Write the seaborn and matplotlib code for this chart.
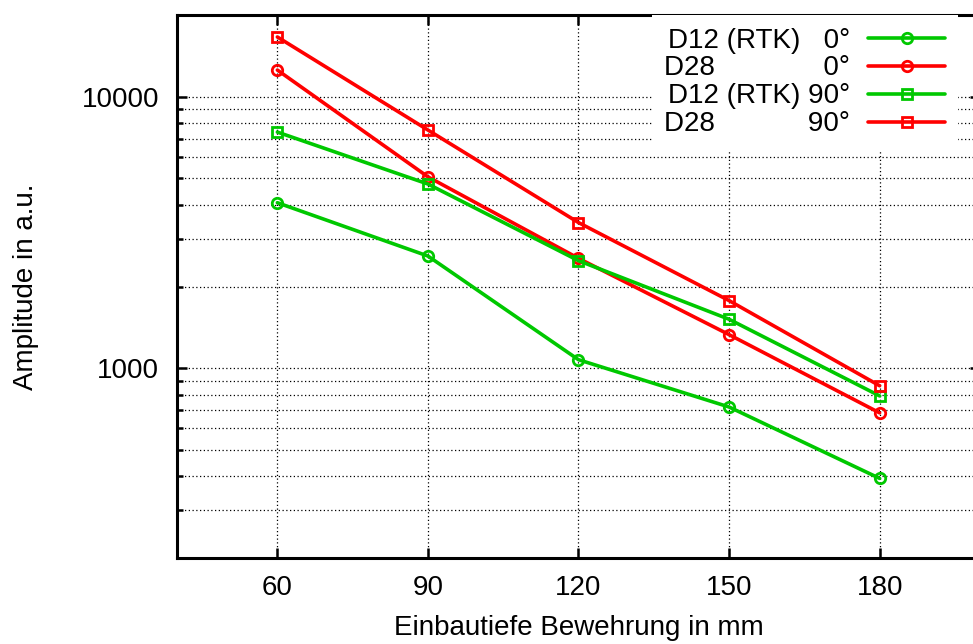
import numpy as np
import pandas as pd
import matplotlib
matplotlib.use("Agg")
import matplotlib.pyplot as plt
import matplotlib.ticker as mticker
import seaborn as sns

# Data
depth = [60, 90, 120, 150, 180]
d12_0 = [4070, 2590, 1075, 720, 393]
d28_0 = [12540, 5070, 2540, 1330, 685]
d12_90 = [7410, 4770, 2490, 1515, 791]
d28_90 = [16600, 7540, 3440, 1775, 862]

names = ["D12 (RTK)", "D28", "D12 (RTK)", "D28"]
angles = ["0°", "0°", "90°", "90°"]
colors = ["#00c800", "#ff0000", "#00c800", "#ff0000"]
markers = ["o", "o", "s", "s"]
series = [d12_0, d28_0, d12_90, d28_90]

# legend labels: name left, angle right (padded with spaces)
labels = ["D12 (RTK)   0°", "D28              0°", "D12 (RTK) 90°", "D28            90°"]

sns.set_theme(style="white")
plt.rcParams["font.family"] = ["Liberation Sans", "DejaVu Sans"]
plt.rcParams["font.size"] = 20
for key in ["text.color", "axes.labelcolor", "xtick.color", "ytick.color"]:
    plt.rcParams[key] = "black"

fig = plt.figure(figsize=(9.73, 6.44), dpi=100)
ax = fig.add_axes([0.1819, 0.1335, 0.8253, 0.8432])

for vals, lab, col, mk in zip(series, labels, colors, markers):
    df = pd.DataFrame({"depth": depth, "amp": vals})
    sns.lineplot(data=df, x="depth", y="amp", ax=ax, color=col, lw=2.6,
                 marker=mk, ms=7.5, mfc="none", mec=col, mew=2.0, label=lab)

ax.set_yscale("log")
ax.set_xlim(40, 200)
ax.set_ylim(200, 20000)
ax.set_xticks(depth)
ax.yaxis.set_major_locator(mticker.LogLocator(base=10))
ax.yaxis.set_minor_locator(mticker.LogLocator(base=10, subs=np.arange(2, 10)))
ax.yaxis.set_major_formatter(mticker.FuncFormatter(lambda v, p: f"{int(round(v))}"))
ax.yaxis.set_minor_formatter(mticker.NullFormatter())

ax.grid(True, which="major", axis="x", color="black", lw=0.9, ls=(0, (1, 2)))
ax.grid(True, which="both", axis="y", color="black", lw=0.9, ls=(0, (1, 2)))
ax.set_axisbelow(True)

for s in ax.spines.values():
    s.set_linewidth(2.2)
    s.set_color("black")

ax.tick_params(axis="both", which="major", direction="in", length=7, width=1.8,
               labelsize=20, top=True, right=True, left=True, bottom=True)
ax.tick_params(axis="y", which="minor", direction="in", length=4, width=1.8,
               left=True, right=True)
ax.tick_params(axis="x", pad=12)
ax.tick_params(axis="y", pad=13)

ax.set_xlabel("Einbautiefe Bewehrung in mm", fontsize=20, labelpad=10)
ax.set_ylabel("Amplitude in a.u.", fontsize=20)
ax.yaxis.set_label_coords(-0.172, 0.5)

handles = ax.get_lines()
leg = ax.legend(handles[:4], labels, loc="upper right", bbox_to_anchor=(0.972, 1.0),
                markerfirst=False, frameon=True, fancybox=False, framealpha=1,
                facecolor="white", edgecolor="none", borderaxespad=0, borderpad=0.45,
                handlelength=2.77, handletextpad=0.65, labelspacing=0.07, fontsize=20)

fig.savefig("out.png", dpi=100)
